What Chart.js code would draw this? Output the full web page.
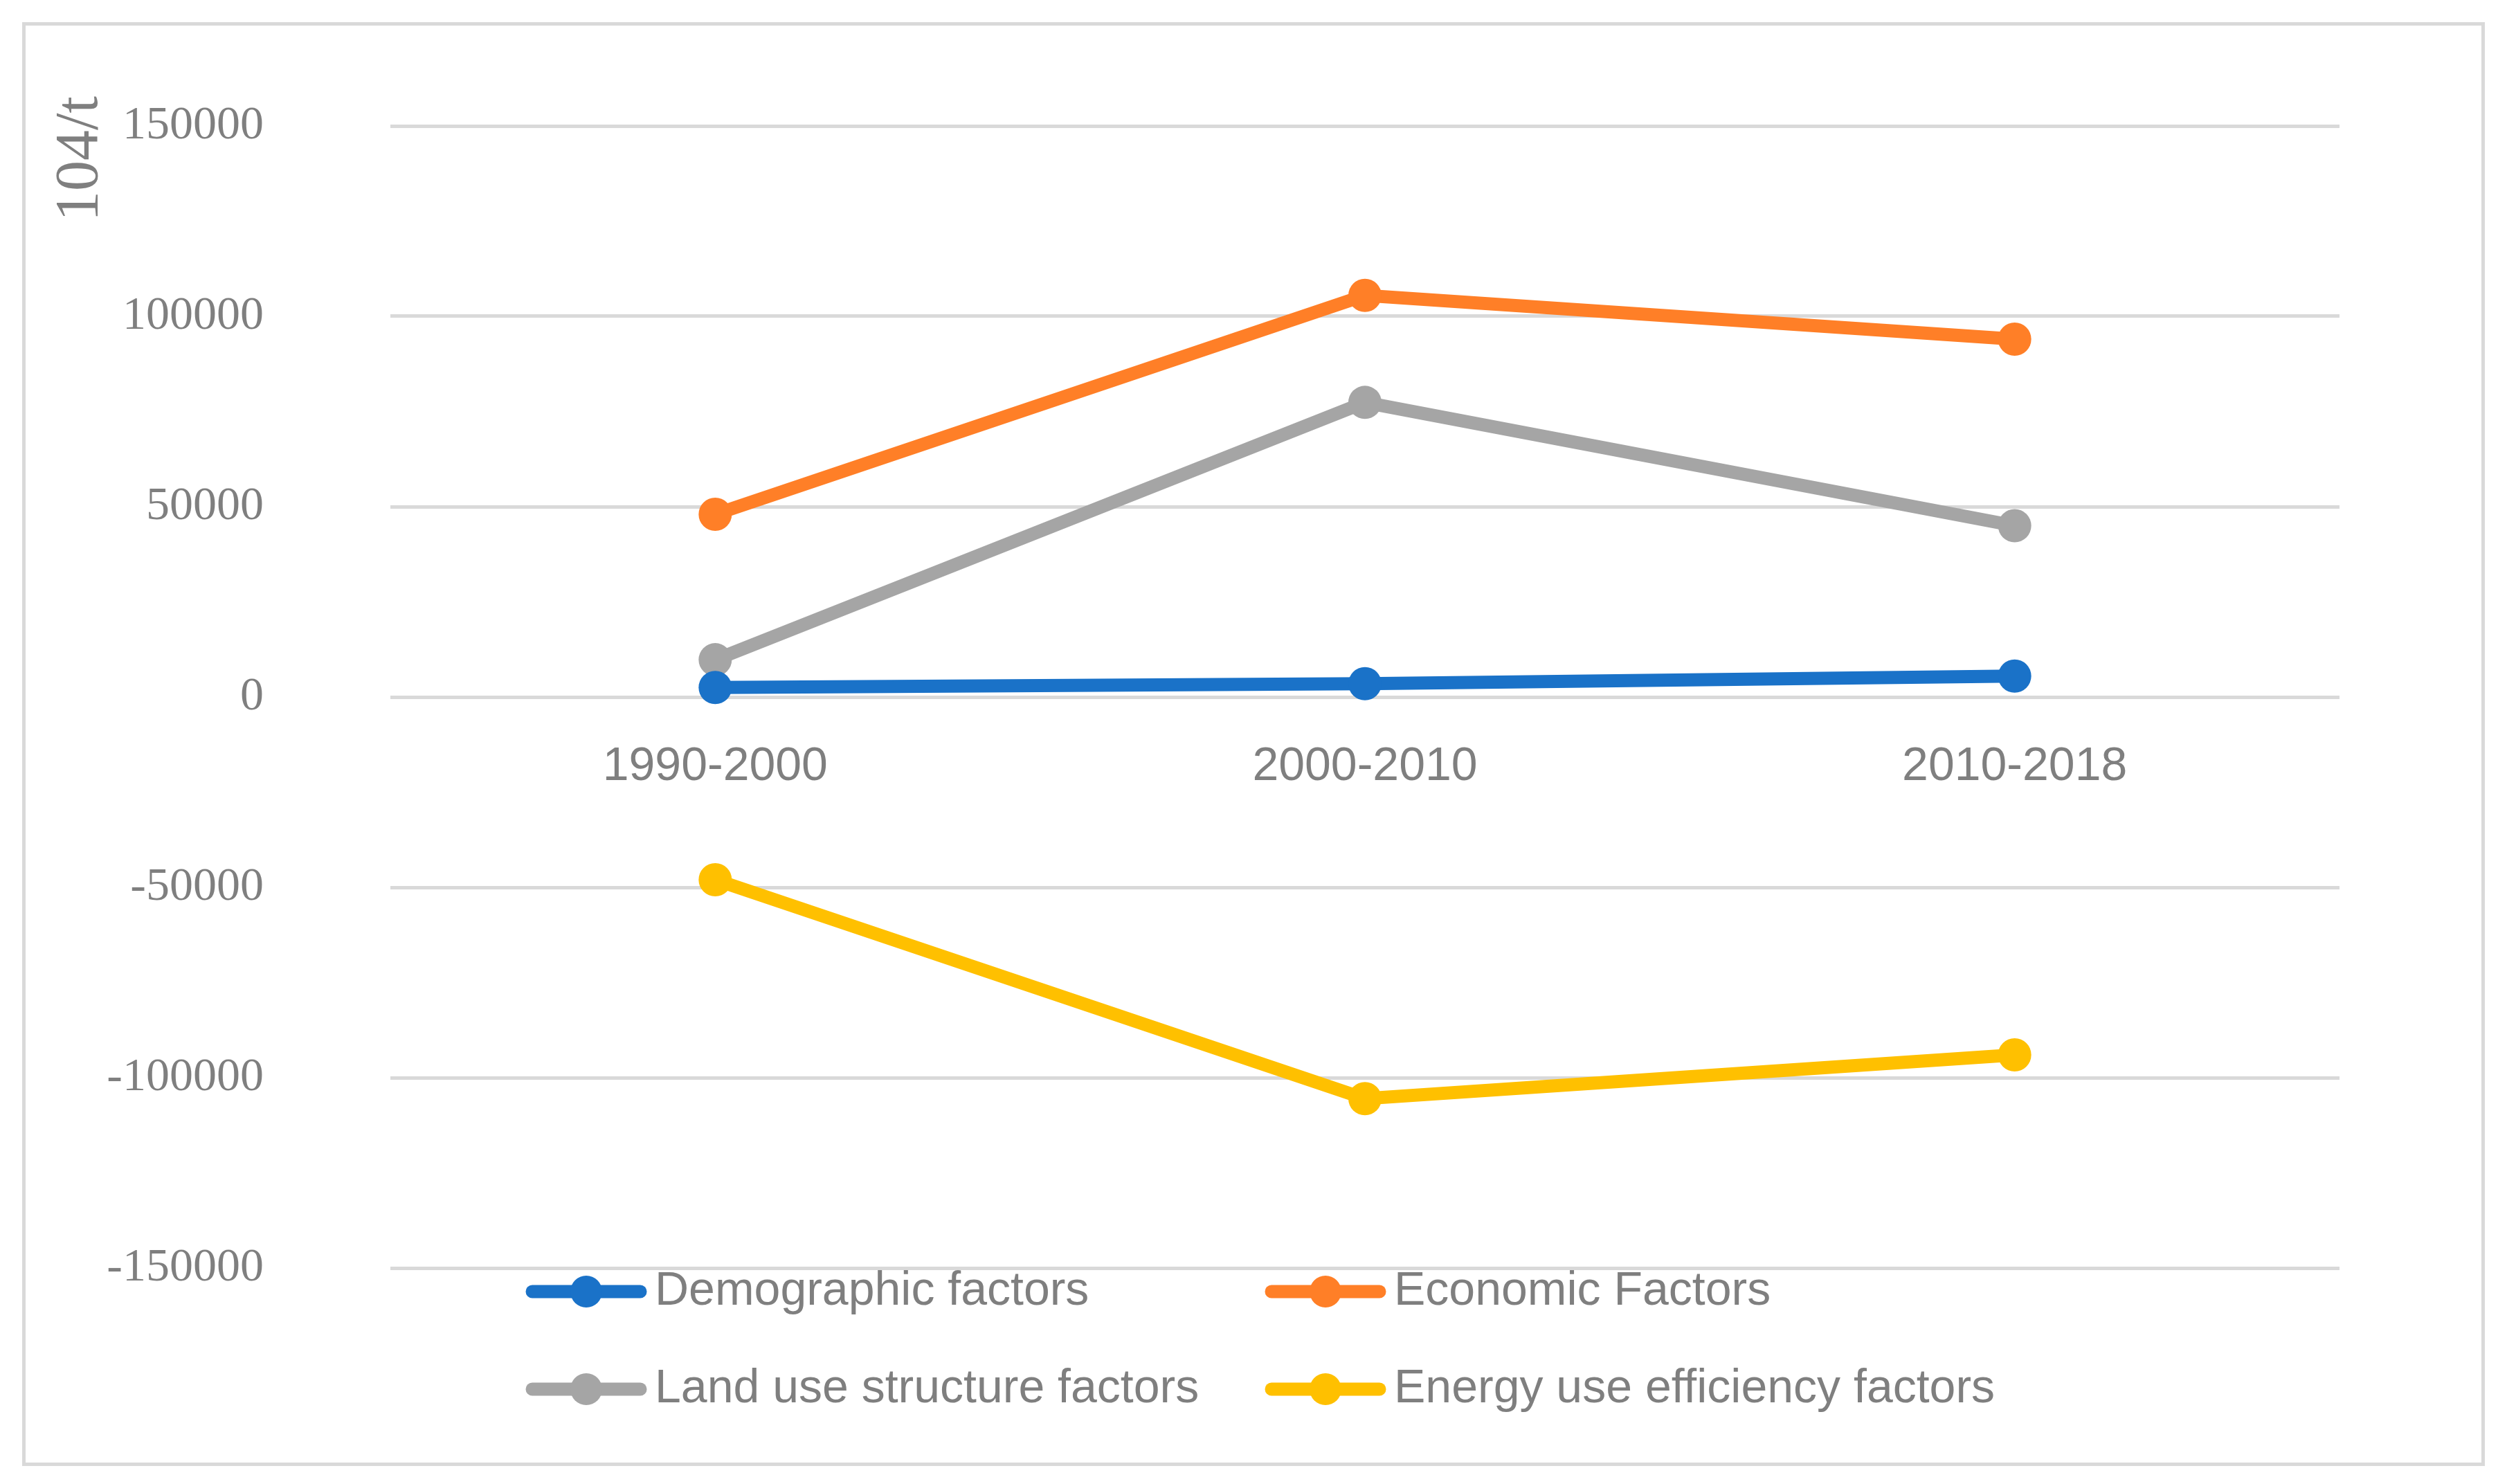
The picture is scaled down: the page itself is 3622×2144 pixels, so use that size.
<!DOCTYPE html>
<html>
<head>
<meta charset="utf-8">
<script src="https://cdn.jsdelivr.net/npm/chart.js@4.4.1/dist/chart.umd.min.js"></script>
<style>
  html, body { margin: 0; padding: 0; background: #fff; }
  canvas { display: block; }
</style>
</head>
<body>
<canvas id="factorChart" width="3622" height="2144"></canvas>
<script>
// ===== data =====
const periods = ['1990-2000', '2000-2010', '2010-2018'];
const demographic = [2500, 3500, 5500];
const economic = [48000, 105500, 94000];
const landUse = [9800, 77400, 45000];
const energyEfficiency = [-48000, -105500, -94000];

const seriesNames = ['Demographic factors', 'Economic Factors', 'Land use structure factors', 'Energy use efficiency factors'];
const seriesColors = ['#1a72c8', '#ff7f27', '#a5a5a5', '#ffc000'];
const yMin = -150000;
const yMax = 150000;
const yStep = 50000;
const yUnit = '104/t';

const grey = '#7f7f7f';
const gridGrey = '#d9d9d9';

// outer frame + unit label sitting above the axis top
const framePlugin = {
  id: 'frame',
  beforeDraw(chart) {
    const ctx = chart.ctx;
    ctx.save();
    ctx.fillStyle = '#fff';
    ctx.fillRect(0, 0, chart.width, chart.height);
    ctx.strokeStyle = gridGrey;
    ctx.lineWidth = 5;
    ctx.strokeRect(34.5, 34.5, 3553, 2081);
    ctx.restore();
  },
  afterDraw(chart) {
    const ctx = chart.ctx;
    ctx.save();
    ctx.translate(117, 139);
    ctx.rotate(-Math.PI / 2);
    ctx.fillStyle = grey;
    ctx.font = '88px "Liberation Serif"';
    ctx.textAlign = 'right';
    ctx.textBaseline = 'middle';
    ctx.fillText(yUnit, 0, 0);
    ctx.restore();
  }
};

// 2 x 2 legend like the excel one
const gridLegend = {
  id: 'gridLegend',
  afterDraw(chart) {
    const ctx = chart.ctx;
    const cols = [759, 1827];
    const rows = [1866, 2007];
    chart.data.datasets.forEach((ds, i) => {
      const x = cols[i % 2];
      const y = rows[Math.floor(i / 2)];
      ctx.save();
      ctx.strokeStyle = ds.borderColor;
      ctx.lineWidth = 19;
      ctx.lineCap = 'round';
      ctx.beginPath();
      ctx.moveTo(x + 10, y);
      ctx.lineTo(x + 166, y);
      ctx.stroke();
      ctx.fillStyle = ds.borderColor;
      ctx.beginPath();
      ctx.arc(x + 88, y, 23, 0, Math.PI * 2);
      ctx.fill();
      ctx.fillStyle = grey;
      ctx.font = '68px "Liberation Sans"';
      ctx.textBaseline = 'middle';
      ctx.fillText(ds.label, x + 187, y);
      ctx.restore();
    });
  }
};

const seriesValues = [demographic, economic, landUse, energyEfficiency];
const datasets = seriesValues.map((vals, i) => ({
  label: seriesNames[i],
  data: vals,
  borderColor: seriesColors[i],
  backgroundColor: seriesColors[i],
  pointBackgroundColor: seriesColors[i],
  pointBorderWidth: 0,
  pointRadius: 24,
  borderWidth: 19,
  tension: 0
}));

new Chart(document.getElementById('factorChart').getContext('2d'), {
  type: 'line',
  data: { labels: periods, datasets: datasets },
  options: {
    responsive: false,
    animation: false,
    devicePixelRatio: 1,
    layout: { padding: { left: 0, right: 242, top: 182, bottom: 312 } },
    plugins: {
      legend: { display: false },
      tooltip: { enabled: false }
    },
    scales: {
      x: {
        position: { y: 0 },
        offset: true,
        grid: { display: false, drawTicks: false },
        border: { display: false },
        ticks: {
          color: grey,
          padding: 60,
          maxRotation: 0,
          font: { family: '"Liberation Sans"', size: 68 }
        }
      },
      y: {
        min: yMin,
        max: yMax,
        grid: { color: gridGrey, lineWidth: 5, drawTicks: false },
        border: { display: false },
        ticks: {
          stepSize: yStep,
          padding: 183,
          color: grey,
          font: { family: '"Liberation Serif"', size: 68 },
          callback: (value) => String(value)
        },
        afterFit(scale) {
          // big label padding should not push the plot area down
          scale.width = 564;
          scale.paddingTop = 0;
          scale.paddingBottom = 0;
        }
      }
    }
  },
  plugins: [framePlugin, gridLegend]
});
</script>
</body>
</html>
